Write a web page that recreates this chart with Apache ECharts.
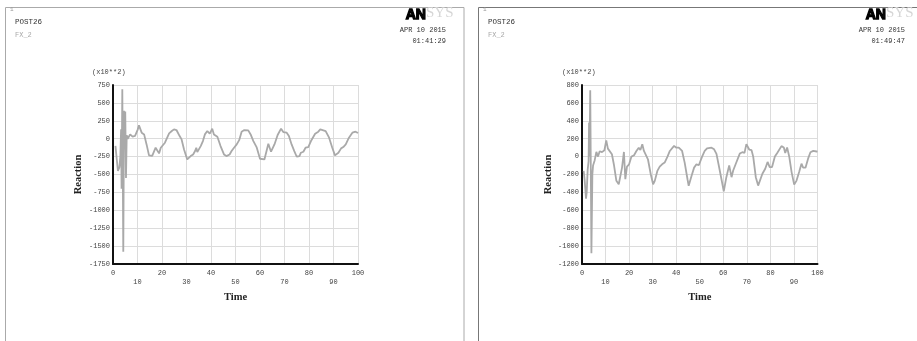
<!DOCTYPE html>
<html>
<head>
<meta charset="utf-8">
<script src="https://cdn.jsdelivr.net/npm/echarts@6/dist/echarts.min.js"></script>
<style>
html,body{margin:0;padding:0;background:#fff;}
#c{width:917px;height:341px;}
</style>
</head>
<body>
<div id="c"></div>
<script>
// ---- Left plot (01:41:29) : Reaction (x10**2) vs Time ----
var leftTime = [1, 2, 2.6, 3, 3.3, 3.5, 3.8, 4.2, 4.5, 4.7, 5.0, 5.3, 5.6, 6, 7, 8, 9, 10, 10.6, 11.7, 12.7, 13.7, 14.7, 16, 17.4, 18.1, 18.8, 19.5, 21.2, 22.9, 24, 24.9, 25.9, 27.2, 28, 29, 30.3, 31.7, 32.7, 33.5, 34, 34.4, 35.8, 36.7, 37.5, 38.5, 39.5, 40.5, 41.2, 42.6, 43.9, 45.3, 46.3, 47.6, 48.4, 49.4, 50.5, 51.5, 52.5, 53.6, 55.2, 56.3, 57.3, 58.6, 60, 61.8, 62.9, 63.4, 64.5, 65.9, 67.2, 68.6, 69.5, 70.9, 71.8, 72.9, 74, 75, 76.1, 76.7, 77.7, 78.6, 79.7, 80.8, 82.5, 83.8, 84.6, 85.4, 86.8, 88.2, 89.5, 90.6, 92, 93.1, 94, 95, 96.3, 97.7, 99, 100];
var leftReaction = [-100, -450, -400, -250, 130, -700, 690, -1580, 390, -150, 380, -550, 50, 0, 60, 30, 40, 120, 186, 84, 60, -80, -233, -240, -126, -100, -205, -126, -56, 75, 107, 130, 121, 37, -10, -150, -290, -243, -220, -172, -126, -187, -103, -33, 60, 107, 70, 140, 60, 28, -103, -220, -243, -220, -172, -126, -80, -20, 98, 121, 117, 51, -33, -117, -280, -290, -140, -70, -182, -80, 51, 140, 93, 84, 37, -80, -173, -252, -243, -196, -182, -126, -117, -33, 70, 98, 130, 117, 107, 14, -126, -233, -196, -135, -117, -80, 14, 84, 98, 79];

// ---- Right plot (01:49:47) ----
var rightTime = [0.7, 1.1, 1.7, 2.0, 2.4, 2.8, 3.0, 3.2, 3.5, 4.0, 4.4, 4.7, 5.4, 6.1, 6.8, 7.5, 8.5, 9.5, 10.3, 11, 11.8, 12.7, 13.6, 14.6, 15.6, 16.3, 17, 17.8, 18.4, 19.1, 20, 21, 22.1, 23.1, 24.1, 24.8, 25.6, 26.3, 27, 28, 29.2, 30.2, 30.9, 32, 33, 34, 35.1, 36.3, 37.3, 38, 39.1, 40.1, 41.1, 42.5, 43.6, 44.8, 45.3, 46.5, 47.6, 48.6, 49.6, 51, 52.1, 53.1, 53.8, 55, 56.1, 57.1, 58.5, 59.2, 60.2, 61.3, 62.5, 63.5, 64.2, 65.6, 67, 68.1, 69, 69.8, 71, 72, 72.7, 73.8, 74.8, 75.5, 76.6, 77.8, 78.8, 79.7, 80.7, 81.9, 82.9, 83.7, 84.7, 85.7, 86.3, 87.1, 88, 89, 90.1, 91.1, 92.2, 93.2, 93.9, 94.9, 96, 97, 98.2, 99.6, 100];
var rightReaction = [-160, -253, -470, -400, -150, -50, 380, 0, 740, -1080, -200, -100, -40, 53, 0, 60, 50, 70, 182, 89, 100, 26, -97, -271, -309, -301, -123, 52, -253, -112, -86, 0, 15, 63, 100, 74, 138, 63, 82, -30, -197, -309, -271, -160, -112, -86, -67, 0, 63, 52, 119, 100, 100, 63, -67, -253, -327, -216, -123, -86, -97, 0, 63, 92, 74, 100, 81, 30, -155, -250, -388, -230, -98, -230, -155, -60, 34, 49, 41, 140, 79, 72, 0, -230, -324, -313, -192, -136, -60, -117, -117, 0, 41, 49, 117, 102, 41, 102, 0, -173, -313, -268, -173, -79, -124, -124, -23, 49, 64, 57, 55];

// ---- Axis settings / labels ----
var xTicks = {min: 0, max: 100, interval: 10};
var leftYTicks = {min: -1750, max: 750, interval: 250};
var rightYTicks = {min: -1200, max: 800, interval: 200};
var xTitle = 'Time';
var yTitle = 'Reaction';
var scaleNote = '(x10**2)';
var panelTitle = 'POST26';
var varName = 'FX_2';
var panelNo = '1';
var dateText = 'APR 10 2015';
var leftClock = '01:41:29';
var rightClock = '01:49:47';

function pairs(t, v) { return t.map(function (x, i) { return [x, v[i]]; }); }

var mono = 'Liberation Mono';
var serif = 'Liberation Serif';

function xAxisCfg(gi, gap) {
  return {
    gridIndex: gi, type: 'value', min: xTicks.min, max: xTicks.max, interval: xTicks.interval,
    name: xTitle, nameLocation: 'middle', nameGap: gap,
    nameTextStyle: {fontFamily: serif, fontWeight: 'bold', fontSize: 10.5, color: '#222'},
    axisLine: {onZero: false, lineStyle: {color: '#111', width: 2}},
    axisTick: {show: false},
    axisLabel: {
      margin: 5, fontFamily: mono, fontSize: 7, color: '#444', lineHeight: 9,
      formatter: function (v) { return (v % 20 === 0) ? String(v) : '\n' + v; }
    },
    splitLine: {show: true, lineStyle: {color: '#dcdcdc', width: 1}}
  };
}
function yAxisCfg(gi, ticks, gap) {
  return {
    gridIndex: gi, type: 'value', min: ticks.min, max: ticks.max, interval: ticks.interval,
    name: yTitle, nameLocation: 'middle', nameGap: gap, nameRotate: 90,
    nameTextStyle: {fontFamily: serif, fontWeight: 'bold', fontSize: 10.5, color: '#222'},
    axisLine: {onZero: false, lineStyle: {color: '#111', width: 2}},
    axisTick: {show: false},
    axisLabel: {margin: 3, fontFamily: mono, fontSize: 7, color: '#444',
      formatter: function (v) { return String(v); }},
    splitLine: {show: true, lineStyle: {color: '#dcdcdc', width: 1}}
  };
}

function headerTexts(x0, logoX, rightEdge, clock) {
  return [
    {type: 'text', left: x0 + 5, top: 6, style: {text: panelNo, fontFamily: mono, fontSize: 6, fill: '#999'}},
    {type: 'text', left: x0 + 10, top: 18, style: {text: panelTitle, fontFamily: mono, fontSize: 7.5, fill: '#333'}},
    {type: 'text', left: x0 + 10, top: 32, style: {text: varName, fontFamily: mono, fontSize: 7, fill: '#aaa'}},
    {type: 'text', left: logoX, top: 7, style: {text: 'AN', font: 'bold 14px Arial, "Liberation Sans", sans-serif', fill: '#000', stroke: '#000', lineWidth: 1.3}},
    {type: 'text', left: logoX + 21, top: 6, style: {text: 'SYS', font: '15px "Liberation Serif", serif', fill: '#d6d6d6'}},
    {type: 'text', right: 917 - rightEdge, top: 27, style: {text: dateText, fontFamily: mono, fontSize: 7, fill: '#333', textAlign: 'right'}},
    {type: 'text', right: 917 - rightEdge, top: 38, style: {text: clock, fontFamily: mono, fontSize: 7, fill: '#333', textAlign: 'right'}}
  ];
}

var chart = echarts.init(document.getElementById('c'), null, {renderer: 'canvas'});
var option = {
  animation: false,
  backgroundColor: '#fff',
  grid: [
    {left: 113, top: 85, width: 245, height: 179},
    {left: 582, top: 85, width: 235.5, height: 179}
  ],
  xAxis: [xAxisCfg(0, 22), xAxisCfg(1, 19)],
  yAxis: [yAxisCfg(0, leftYTicks, 29), yAxisCfg(1, rightYTicks, 25)],
  series: [
    {type: 'line', xAxisIndex: 0, yAxisIndex: 0, data: pairs(leftTime, leftReaction),
     showSymbol: false, lineStyle: {color: '#a9a9a9', width: 1.8}},
    {type: 'line', xAxisIndex: 1, yAxisIndex: 1, data: pairs(rightTime, rightReaction),
     showSymbol: false, lineStyle: {color: '#a9a9a9', width: 1.8}}
  ],
  graphic: [
    {type: 'rect', shape: {x: 5.5, y: 7.5, width: 458.5, height: 345}, style: {fill: null, stroke: '#aaa', lineWidth: 1}},
    {type: 'rect', shape: {x: 478.5, y: 7.5, width: 460, height: 345}, style: {fill: null, stroke: '#777', lineWidth: 1}},
    {type: 'text', left: 92, top: 69, style: {text: scaleNote, fontFamily: mono, fontSize: 7, fill: '#444'}},
    {type: 'text', left: 562, top: 69, style: {text: scaleNote, fontFamily: mono, fontSize: 7, fill: '#444'}}
  ].concat(headerTexts(5, 405, 446, leftClock)).concat(headerTexts(478, 865, 905, rightClock))
};
chart.setOption(option);
</script>
</body>
</html>
